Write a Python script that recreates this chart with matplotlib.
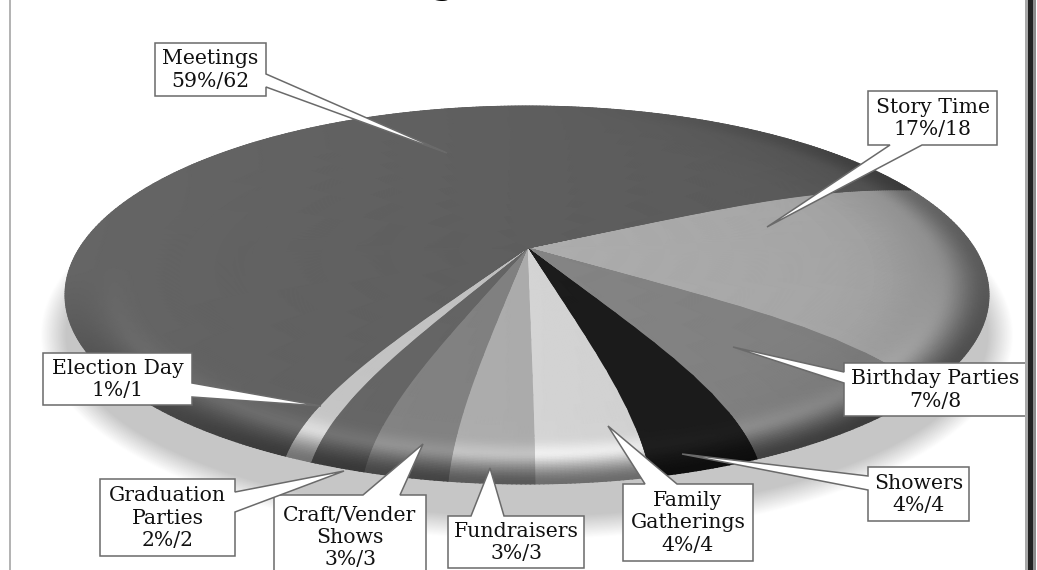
import numpy as np
import matplotlib
matplotlib.use('Agg')
import matplotlib.pyplot as plt
from matplotlib.patches import Ellipse, Polygon, Rectangle

# clockwise from the top edge of Story Time
categories = ['Story Time', 'Birthday Parties', 'Showers', 'Family\nGatherings', 'Fundraisers',
              'Craft/Vender\nShows', 'Graduation\nParties', 'Election Day', 'Meetings']
counts = [18, 8, 4, 4, 3, 3, 2, 1, 62]
percents = [17, 7, 4, 4, 3, 3, 2, 1, 59]

greys = [0.68, 0.52, 0.11, 0.83, 0.67, 0.50, 0.39, 0.75, 0.37]

# box x0, x1, y0, y1, side of the tail, tail base a, tail base b, tip x, tip y
callouts = [
    (868, 997, 91, 145, 'bottom', 890, 922, 767, 227),
    (844, 1026, 363, 416, 'left', 372, 383, 733, 347),
    (868, 969, 467, 521, 'left', 476, 490, 682, 454),
    (623, 753, 484, 561, 'top', 645, 677, 608, 426),
    (448, 584, 516, 568, 'top', 471, 504, 490, 468),
    (274, 426, 495, 579, 'top', 363, 400, 423, 444),
    (100, 235, 479, 556, 'right', 492, 512, 344, 471),
    (43, 192, 353, 405, 'right', 383, 397, 321, 406),
    (155, 266, 43, 96, 'right', 74, 87, 447, 153),
]

cx, cy = 527, 248      # apex of the pie
k = 0.2487             # perspective
A, B = 447.5, 177.3
start_angle = 27.5
twist = 10.5


def project(r, th):
    # th in degrees, slices bend towards the front of the pie near the rim
    phi = (th + 90 + 180) % 360 - 180
    ease = 1 - 0.3 * np.clip(np.abs(phi) - 30, 0, 90) / 90
    th2 = np.radians(th - twist * np.sin(np.radians(phi)) * ease * r ** 4)
    u = r * np.cos(th2)
    v = r * np.sin(th2)
    d = 1 + k * v
    return cx + A * u / d, cy - B * v / d


def smooth(a, b, x):
    t = np.clip((x - a) / (b - a), 0, 1)
    return t * t * (3 - 2 * t)


def shade(base, r, th):
    t = np.radians(th)
    s, c = np.sin(t), np.cos(t)
    w = np.clip(np.clip(-s, 0, 1) ** 1.2 + 0.7 * np.clip(c, 0, 1) ** 2, 0, 1)
    bump = np.exp(-((r - 0.9) / 0.035) ** 2) * np.clip(-s, 0, 1)
    edge = smooth(0.9, 1.0, r)
    soft = smooth(0.7, 1.0, r) * np.clip(c, 0, 1) ** 2
    f = (1 - 0.07 * r * c) * (1 + 0.13 * bump) * (1 - 0.48 * w * edge) * (1 - 0.15 * soft)
    return np.clip(base * f, 0, 1)


fig = plt.figure(figsize=(10.37, 5.70), dpi=100)
ax = fig.add_axes([0, 0, 1, 1])
ax.set_xlim(0, 1037)
ax.set_ylim(570, 0)
ax.axis('off')

# soft shadow under the pie
n = 24
for i in range(n):
    f = i / (n - 1)
    grey = 1 - (1 - 0.775) * f
    ax.add_patch(Ellipse((527, 335), 2 * (487 - 26 * f), 2 * (205 - 24 * f),
                         fc=(grey, grey, grey), ec='none', zorder=1))

# slices
angle = start_angle
total = sum(counts)
rr = np.concatenate([np.linspace(0, 0.84, 12), np.linspace(0.85, 1, 30)])
for value, base in zip(counts, greys):
    sweep = 360 * value / total
    tt = np.linspace(angle, angle - sweep, max(int(sweep * 2), 8))
    R, T = np.meshgrid(rr, tt)
    X, Y = project(R, T)
    ax.pcolormesh(X, Y, shade(base, R, T), shading='gouraud', cmap='gray', vmin=0, vmax=1, zorder=2)
    angle -= sweep

# callouts
edge = '#6a6a6a'
for cat, pct, val, c in zip(categories, percents, counts, callouts):
    x0, x1, y0, y1, side, a, b, tx, ty = c
    if side == 'right':
        pts = [(x0, y0), (x1, y0), (x1, a), (tx, ty), (x1, b), (x1, y1), (x0, y1)]
    elif side == 'left':
        pts = [(x0, y0), (x1, y0), (x1, y1), (x0, y1), (x0, b), (tx, ty), (x0, a)]
    elif side == 'top':
        pts = [(x0, y0), (a, y0), (tx, ty), (b, y0), (x1, y0), (x1, y1), (x0, y1)]
    else:
        pts = [(x0, y0), (x1, y0), (x1, y1), (b, y1), (tx, ty), (a, y1), (x0, y1)]
    ax.add_patch(Polygon(pts, closed=True, fc='white', ec=edge, lw=1.1, zorder=3, clip_on=False))
    ax.text((x0 + x1) / 2, (y0 + y1) / 2 + 0.5, f'{cat}\n{pct}%/{val}', ha='center', va='center',
            family='DejaVu Serif', fontsize=14.7, linespacing=1.22, color='#111111', zorder=4)

# chart frame
ax.add_patch(Rectangle((9, 0), 2.3, 570, fc='#b4b4b4', ec='none', zorder=5))
ax.add_patch(Rectangle((1025, 0), 3, 570, fc='#a8a8a8', ec='none', zorder=5))
ax.add_patch(Rectangle((1028, 0), 5, 570, fc='#222222', ec='none', zorder=5))
ax.add_patch(Rectangle((1033, 0), 3, 570, fc='#8c8c8c', ec='none', zorder=5))

# title is cut off by the top of the picture, only this descender shows
ax.text(443, -6, 'g', ha='center', va='baseline', family='DejaVu Serif', fontsize=24,
        fontweight='bold', color='black', zorder=5, clip_on=False)

fig.savefig('out.png', dpi=100)
